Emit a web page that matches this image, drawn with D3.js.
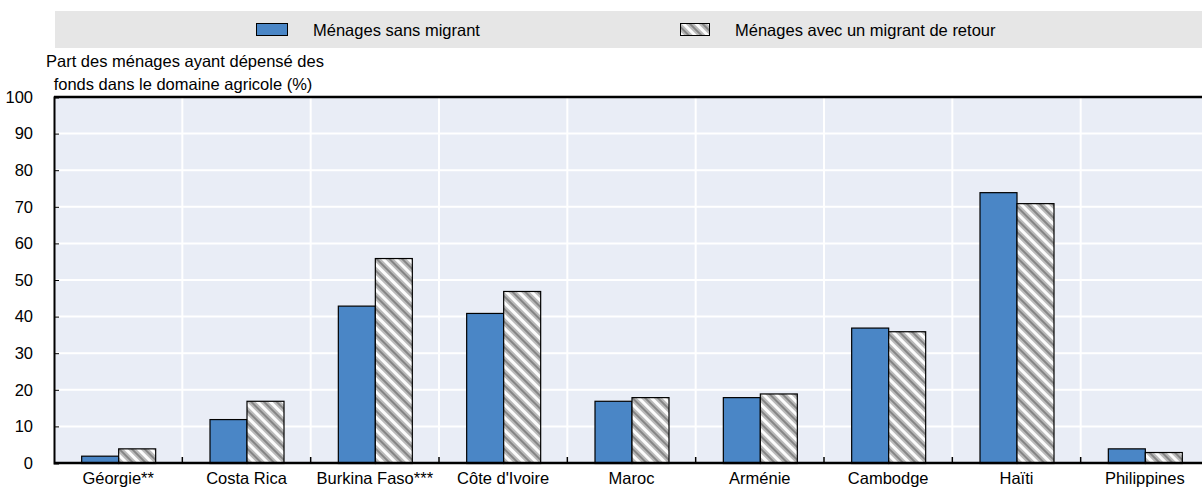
<!DOCTYPE html>
<html>
<head>
<meta charset="utf-8">
<script src="https://cdn.jsdelivr.net/npm/d3@7"></script>
<style>
  body { margin: 0; background: #fff; }
  text { font-family: "Liberation Sans", Arial, sans-serif; }
</style>
</head>
<body>
<div class="chart"></div>
<script>
const countries = ["Géorgie**", "Costa Rica", "Burkina Faso***", "Côte d'Ivoire", "Maroc", "Arménie", "Cambodge", "Haïti", "Philippines"];
const sansMigrant = [2, 12, 43, 41, 17, 18, 37, 74, 4];
const avecRetour = [4, 17, 56, 47, 18, 19, 36, 71, 3];
const seriesNames = ["Ménages sans migrant", "Ménages avec un migrant de retour"];
const yTicks = [0, 10, 20, 30, 40, 50, 60, 70, 80, 90, 100];

const W = 1202, H = 489;
const margin = {top: 97, right: -7, bottom: 26, left: 54};
const width = W - margin.left - margin.right;
const height = H - margin.top - margin.bottom;
const FS = '16.5px';

const svg = d3.select('.chart').append('svg')
    .attr('width', W)
    .attr('height', H);

// diagonal hatch, stripes running top-left to bottom-right
const defs = svg.append('defs');
const P = 9;
const pat = defs.append('pattern')
    .attr('id', 'hatch')
    .attr('patternUnits', 'userSpaceOnUse')
    .attr('width', P).attr('height', P)
    .attr('patternTransform', 'rotate(-45)');
pat.append('rect').attr('width', P).attr('height', P).attr('fill', '#fcfcfc');
pat.append('rect').attr('x', 1.5).attr('width', 3).attr('height', P).attr('fill', '#858585');
pat.append('rect').attr('x', 0).attr('width', 1.5).attr('height', P).attr('fill', '#b8b8b8');
pat.append('rect').attr('x', 4.5).attr('width', 1.5).attr('height', P).attr('fill', '#b8b8b8');

// legend band
const leg = svg.append('g');
leg.append('rect').attr('x', 55).attr('y', 11).attr('width', W - 55).attr('height', 37).attr('fill', '#e6e6e6');
const legX = [256, 680];
const legTextX = [313, 735];
const fills = ['#4a86c6', 'url(#hatch)'];
seriesNames.forEach((s, i) => {
  leg.append('rect').attr('x', legX[i] + 0.5).attr('y', 23.5).attr('width', i ? 29 : 31).attr('height', 12)
     .attr('fill', fills[i]).attr('stroke', '#000').attr('stroke-width', 1);
  leg.append('text').attr('x', legTextX[i]).attr('y', 36).attr('font-size', FS).attr('fill', '#000').text(s);
});

// y title
const yt = svg.append('text').attr('text-anchor', 'middle').attr('font-size', FS).attr('fill', '#000');
yt.append('tspan').attr('x', 185).attr('y', 67).text('Part des ménages ayant dépensé des');
yt.append('tspan').attr('x', 183).attr('y', 90).text('fonds dans le domaine agricole (%)');

const g = svg.append('g').attr('transform', `translate(${margin.left},${margin.top})`);

const xScale = d3.scaleBand().domain(countries).range([0, width]).padding(0);
const yScale = d3.scaleLinear().domain([0, 100]).range([height, 0]);
const sub = d3.scaleBand().domain([0, 1]).range([0, 74]);

g.append('rect').attr('width', width).attr('height', height).attr('fill', '#e9edf6');

// gridlines
g.selectAll('.hgrid').data(yTicks.slice(1, -1)).enter().append('line')
  .attr('x1', 0).attr('x2', width)
  .attr('y1', d => yScale(d)).attr('y2', d => yScale(d))
  .attr('stroke', '#fff').attr('stroke-width', 2);
g.selectAll('.vgrid').data(countries.slice(1)).enter().append('line')
  .attr('x1', d => xScale(d)).attr('x2', d => xScale(d))
  .attr('y1', 0).attr('y2', height)
  .attr('stroke', '#fff').attr('stroke-width', 2);

// bars
const rows = countries.map((c, i) => ({c, v: [sansMigrant[i], avecRetour[i]]}));
const grp = g.selectAll('.grp').data(rows).enter().append('g')
  .attr('transform', d => `translate(${xScale(d.c) + xScale.bandwidth() / 2 - 37},0)`);
grp.selectAll('rect').data(d => d.v.map((v, k) => ({v, k}))).enter().append('rect')
  .attr('x', d => sub(d.k) + 0.5)
  .attr('y', d => yScale(d.v) + 0.5)
  .attr('width', sub.bandwidth())
  .attr('height', d => height - yScale(d.v))
  .attr('fill', d => fills[d.k])
  .attr('stroke', '#000').attr('stroke-width', 1.2);

// axes
const yAxis = d3.axisLeft(yScale).tickValues(yTicks).tickSize(-5).tickPadding(21);
g.append('g').call(yAxis)
  .call(a => a.select('.domain').attr('stroke-width', 2))
  .call(a => a.selectAll('text').attr('font-size', FS).attr('fill', '#000').attr('font-family', '"Liberation Sans", Arial, sans-serif'));

g.append('line').attr('x1', 0).attr('x2', width).attr('y1', 0).attr('y2', 0).attr('stroke', '#000').attr('stroke-width', 2.5);

const xAxis = g.append('g').attr('transform', `translate(0,${height})`);
xAxis.append('line').attr('x1', 0).attr('x2', width).attr('stroke', '#000').attr('stroke-width', 2.5);
xAxis.selectAll('.tk').data(countries.slice(1)).enter().append('line')
  .attr('x1', d => xScale(d)).attr('x2', d => xScale(d)).attr('y1', 0).attr('y2', -6)
  .attr('stroke', '#000').attr('stroke-width', 1.5);
xAxis.selectAll('.lbl').data(countries).enter().append('text')
  .attr('x', d => xScale(d) + xScale.bandwidth() / 2)
  .attr('y', 21).attr('text-anchor', 'middle').attr('font-size', FS).attr('fill', '#000')
  .text(d => d);
</script>
</body>
</html>
